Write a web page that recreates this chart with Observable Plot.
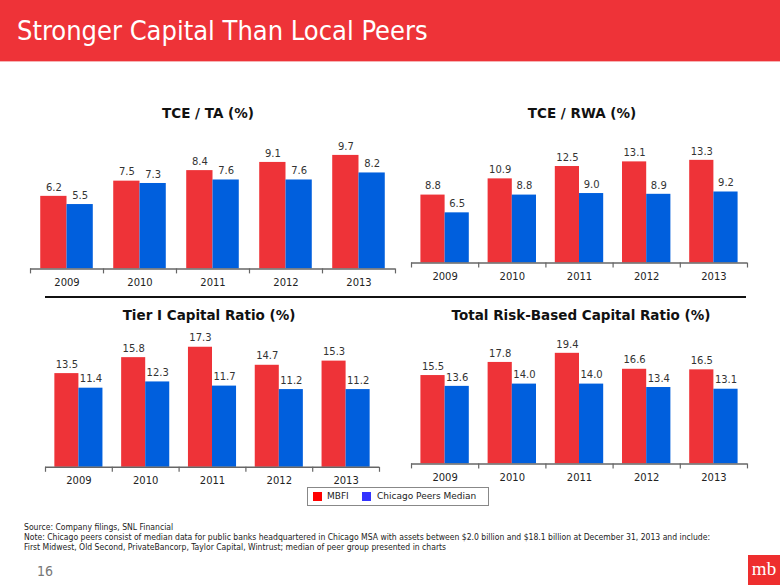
<!DOCTYPE html>
<html><head><meta charset="utf-8">
<script src="https://cdn.jsdelivr.net/npm/d3@7"></script>
<script src="https://cdn.jsdelivr.net/npm/@observablehq/plot@0.6"></script>
<style>
body{margin:0;background:#fff;}
#page{position:relative;width:780px;height:585px;overflow:hidden;background:#fff;font-family:"DejaVu Sans",Verdana,sans-serif;}
#bar{position:absolute;left:0;top:0;width:780px;height:61px;background:#EE3338;border-bottom:1px solid #f6b3b4;}
#bar span{position:absolute;left:17px;top:15px;color:#fff;font-family:"DejaVu Sans Condensed","DejaVu Sans",sans-serif;font-size:27px;line-height:32px;white-space:nowrap;}
.ctitle{position:absolute;transform:translate(-50%,-50%);font-weight:bold;font-size:13.5px;color:#111;white-space:nowrap;}
#sep{position:absolute;left:45px;top:296px;width:701px;height:2px;background:#111;}
#legend{position:absolute;left:307px;top:487px;width:180px;height:17px;border:1px solid #888;font-size:9px;color:#222;}
#legend .sw{position:absolute;top:4px;width:9px;height:9px;}
#legend .lb{position:absolute;top:3px;line-height:11px;white-space:nowrap;}
#foot{position:absolute;left:24px;top:522px;font-family:"Liberation Sans Narrow","DejaVu Sans Condensed",sans-serif;font-size:9.5px;line-height:10px;color:#222;white-space:nowrap;}
#foot div{transform-origin:0 0;display:inline-block;}
#pnum{position:absolute;left:37px;top:563px;font-size:14px;color:#777;font-family:"DejaVu Sans Condensed","DejaVu Sans",sans-serif;}
#logo{position:absolute;left:748px;top:555px;width:32px;height:30px;background:#EE2E2E;color:#fff;font-family:"Liberation Serif","DejaVu Serif",serif;font-size:19px;line-height:28px;text-align:center;}
</style></head><body><div id="page">
<div id="bar"><span>Stronger Capital Than Local Peers</span></div>
</div>
<script>
// ---- data ----
const years = ["2009", "2010", "2011", "2012", "2013"];
const seriesNames = ["MBFI", "Chicago Peers Median"];
const chartTitles = ["TCE / TA (%)", "TCE / RWA (%)", "Tier I Capital Ratio (%)", "Total Risk-Based Capital Ratio (%)"];
const tceTaMbfi = [6.2, 7.5, 8.4, 9.1, 9.7];
const tceTaPeers = [5.5, 7.3, 7.6, 7.6, 8.2];
const tceRwaMbfi = [8.8, 10.9, 12.5, 13.1, 13.3];
const tceRwaPeers = [6.5, 8.8, 9.0, 8.9, 9.2];
const tier1Mbfi = [13.5, 15.8, 17.3, 14.7, 15.3];
const tier1Peers = [11.4, 12.3, 11.7, 11.2, 11.2];
const trbcMbfi = [15.5, 17.8, 19.4, 16.6, 16.5];
const trbcPeers = [13.6, 14.0, 14.0, 13.4, 13.1];
const sourceText = "Source: Company filings, SNL Financial";
const noteText1 = "Note:  Chicago peers consist of median data for public banks headquartered in Chicago MSA with assets between $2.0 billion and $18.1 billion at December 31, 2013 and include:";
const noteText2 = "First Midwest, Old Second, PrivateBancorp, Taylor Capital, Wintrust; median of peer group presented in charts";

// ---- style / layout ----
const RED = "#EE3338", BLUE = "#005FDD";
const page = document.getElementById("page");
const PAD = 0.14; // outer gap of the bar pair inside each year band

function makeChart(cfg) {
  const {title, mbfi, peers, left, right, base, ppu, ymax, tx, ty} = cfg;
  const H = ymax * ppu, mB = 30, mX = 12;
  const data = years.flatMap((yr, i) => [
    {year: yr, series: seriesNames[0], value: mbfi[i], x1: i + PAD, x2: i + 0.5},
    {year: yr, series: seriesNames[1], value: peers[i], x1: i + 0.5, x2: i + 1 - PAD}
  ]);
  const chart = Plot.plot({
    width: right - left + 2 * mX, height: H + mB,
    marginLeft: mX, marginRight: mX, marginTop: 0, marginBottom: mB,
    x: {domain: [0, years.length]},
    y: {domain: [0, ymax], axis: null},
    color: {domain: seriesNames, range: [RED, BLUE]},
    style: {background: "transparent", overflow: "visible", fontFamily: "DejaVu Sans, Verdana, sans-serif", fontSize: "10px"},
    marks: [
      Plot.rectY(data, {x1: "x1", x2: "x2", y: "value", fill: "series"}),
      Plot.ruleY([0], {stroke: "#666", strokeWidth: 1.5}),
      Plot.axisX({ticks: d3.range(years.length + 1), tickSize: 5, tickFormat: () => "", stroke: "#666", strokeWidth: 1.2}),
      Plot.axisX({ticks: years.map((_, i) => i + 0.5), tickSize: 0, tickPadding: 10,
        tickFormat: t => years[Math.floor(t)], fill: "#222", fontSize: 10}),
      Plot.text(data, {x: d => (d.x1 + d.x2) / 2, y: "value", text: d => d.value.toFixed(1),
        dy: -9, fontSize: 10, fill: "#333"})
    ]
  });
  chart.style.position = "absolute";
  chart.style.left = (left - mX) + "px";
  chart.style.top = (base - H) + "px";
  page.appendChild(chart);
  const t = document.createElement("div");
  t.className = "ctitle";
  t.textContent = title;
  t.style.left = tx + "px";
  t.style.top = ty + "px";
  page.appendChild(t);
}

makeChart({title: chartTitles[0], mbfi: tceTaMbfi, peers: tceTaPeers, left: 30, right: 395, base: 268, ppu: 11.7, ymax: 12, tx: 208, ty: 113});
makeChart({title: chartTitles[1], mbfi: tceRwaMbfi, peers: tceRwaPeers, left: 411, right: 747, base: 263, ppu: 7.72, ymax: 16, tx: 582, ty: 113});
makeChart({title: chartTitles[2], mbfi: tier1Mbfi, peers: tier1Peers, left: 45, right: 379, base: 467, ppu: 6.94, ymax: 20, tx: 209, ty: 315});
makeChart({title: chartTitles[3], mbfi: trbcMbfi, peers: trbcPeers, left: 411, right: 747, base: 463, ppu: 5.7, ymax: 22, tx: 581, ty: 315});

// separator line
const sep = document.createElement("div"); sep.id = "sep"; page.appendChild(sep);

// legend
const lg = document.createElement("div"); lg.id = "legend";
const swColors = ["#FF0000", "#3333FF"], swX = [5, 54], lbX = [19, 69];
seriesNames.forEach((s, k) => {
  const sw = document.createElement("div"); sw.className = "sw";
  sw.style.left = swX[k] + "px"; sw.style.background = swColors[k]; lg.appendChild(sw);
  const lb = document.createElement("div"); lb.className = "lb";
  lb.style.left = lbX[k] + "px"; lb.textContent = s; lg.appendChild(lb);
});
page.appendChild(lg);

// footer (narrow font emulated by horizontal scaling so the note line spans ~686px)
const foot = document.createElement("div"); foot.id = "foot";
const lines = [sourceText, noteText1, noteText2].map(s => {
  const w = document.createElement("div"); w.style.display = "block"; w.style.height = "10px";
  const d = document.createElement("div"); d.textContent = s; w.appendChild(d); foot.appendChild(w); return d;
});
page.appendChild(foot);
const k = 686 / lines[1].getBoundingClientRect().width;
lines.forEach(d => d.style.transform = `scaleX(${k})`);

const pn = document.createElement("div"); pn.id = "pnum"; pn.textContent = "16"; page.appendChild(pn);
const logo = document.createElement("div"); logo.id = "logo"; logo.textContent = "mb"; page.appendChild(logo);
</script>
</body></html>
